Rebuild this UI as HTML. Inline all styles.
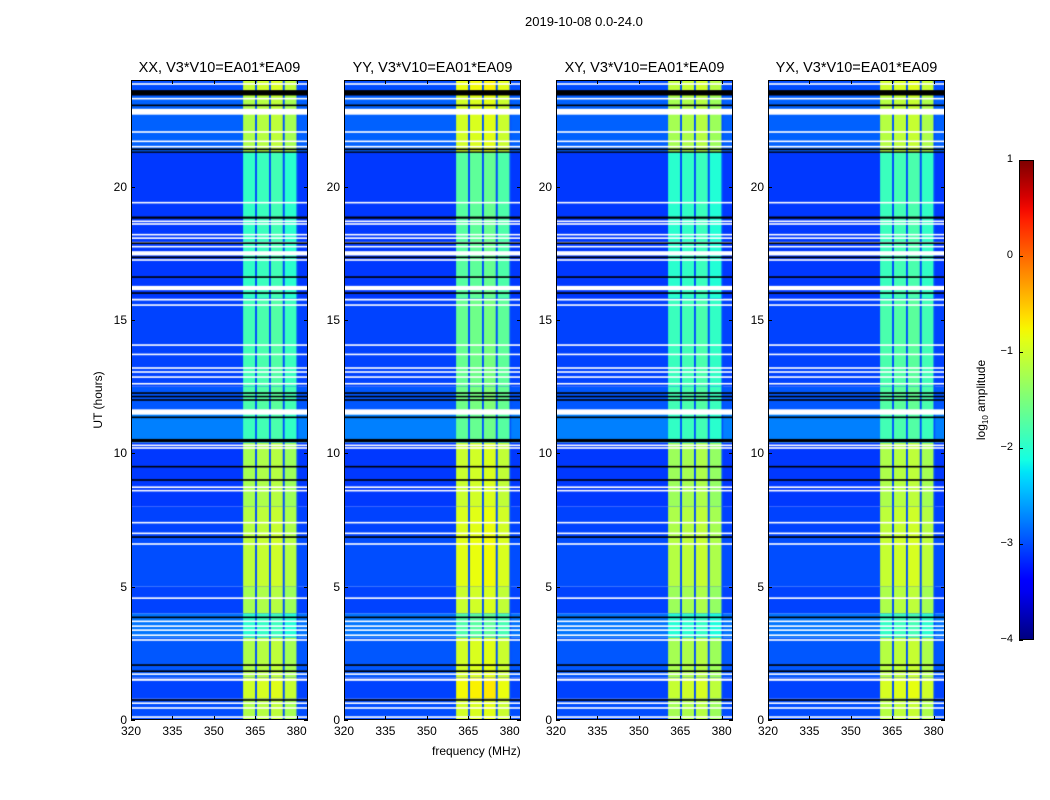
<!DOCTYPE html>
<html><head><meta charset="utf-8">
<style>
body{margin:0;background:#fff;width:1050px;height:800px;position:relative;overflow:hidden;font-family:"Liberation Sans","DejaVu Sans",sans-serif;}
.t{position:absolute;font-size:12px;color:#000;white-space:nowrap;}
.title{position:absolute;font-size:14.5px;white-space:nowrap;transform:translateX(-50%);}
canvas{position:absolute;}
.frame{position:absolute;border:1px solid #000;box-sizing:border-box;}
</style></head>
<body>
<div class="t" style="left:525px;top:14px;font-size:13px;">2019-10-08 0.0-24.0</div>
<div class="t" style="left:432px;top:744px;font-size:12px;">frequency (MHz)</div>
<div class="t" style="left:98px;top:400px;transform:translate(-50%,-50%) rotate(-90deg);font-size:12px;">UT (hours)</div>
<div class="t" style="left:982px;top:400px;transform:translate(-50%,-50%) rotate(-90deg);font-size:12px;">log<sub style="font-size:8px">10</sub> amplitude</div>
<div id="root"></div>
<script>
// ---- data ----
const panelTitles = ["XX, V3*V10=EA01*EA09","YY, V3*V10=EA01*EA09","XY, V3*V10=EA01*EA09","YX, V3*V10=EA01*EA09"];
const panelLefts = [131,344,556,768];
const panelGain = [0, 0.22, -0.05, 0.05];
const xTicks = [320,335,350,365,380];
const yTicks = [0,5,10,15,20];
const cbTicks = [-4,-3,-2,-1,0,1];
// time segments (hours) : background level and RFI-band level (log10 amplitude)
const segStart = [0, 0.8, 1.6, 3.1, 4.0, 5.0, 6.9, 8.0, 10.4, 11.5, 12.5, 15.8, 21.3, 23.4];
const segEnd   = [0.8, 1.6, 3.1, 4.0, 5.0, 6.9, 8.0, 10.4, 11.5, 12.5, 15.8, 21.3, 23.4, 24];
const segBg    = [-3.0, -3.05, -2.95, -2.8, -3.05, -3.0, -3.05, -3.1, -2.75, -2.95, -3.05, -3.1, -2.9, -3.0];
const segBand  = [-1.2, -1.0, -1.2, -2.0, -1.25, -1.1, -1.15, -1.25, -1.9, -1.8, -1.85, -1.95, -1.2, -1.05];
// RFI sub-bands (MHz)
const subStart = [360.6, 365.6, 370.6, 375.6];
const subEnd   = [365.0, 370.0, 375.0, 380.0];
const subOffset = [0, 0.05, 0.1, -0.05];
// flagged rows (hours)
const whiteStart = [0.08,0.42,0.6,1.47,1.69,2.97,3.15,3.34,3.49,3.67,4.54,6.57,6.97,7.37,8.57,8.7,10.17,10.27,11.45,12.58,12.83,13.02,13.17,13.68,14.03,15.53,15.73,16.12,17.22,17.42,17.72,17.87,18.04,18.17,18.57,18.67,19.37,21.47,21.67,22.02,22.7,23.27,23.52,23.82];
const whiteEnd   = [0.14,0.48,0.66,1.55,1.75,3.03,3.21,3.4,3.55,3.73,4.6,6.63,7.03,7.43,8.63,8.76,10.23,10.33,11.65,12.64,12.89,13.08,13.23,13.74,14.09,15.59,15.79,16.28,17.28,17.58,17.78,17.93,18.1,18.23,18.63,18.73,19.43,21.53,21.73,22.08,22.92,23.33,23.58,23.88];
const blackStart = [0.72,1.8,2.03,3.82,6.83,8.97,9.47,10.42,11.32,11.97,12.1,12.23,15.98,16.58,17.32,17.85,18.8,21.37,21.27,23.02,23.42];
const blackEnd   = [0.78,1.86,2.09,3.88,6.89,9.03,9.53,10.54,11.38,12.03,12.16,12.29,16.04,16.64,17.38,17.91,18.88,21.43,21.32,23.08,23.62];

// ---- helpers ----
function interp(pts,t){for(let i=1;i<pts.length;i++){if(t<=pts[i][0]){const a=pts[i-1],b=pts[i];return a[1]+(b[1]-a[1])*(t-a[0])/(b[0]-a[0]);}}return pts[pts.length-1][1];}
const RP=[[0,0],[0.35,0],[0.66,1],[0.89,1],[1,0.5]];
const GP=[[0,0],[0.125,0],[0.375,1],[0.64,1],[0.91,0],[1,0]];
const BP=[[0,0.5],[0.11,1],[0.34,1],[0.65,0],[1,0]];
function jet(v){
  let t=(v+4)/5; t=Math.max(0,Math.min(1,t));
  return `rgb(${Math.round(interp(RP,t)*255)},${Math.round(interp(GP,t)*255)},${Math.round(interp(BP,t)*255)})`;
}
const W=177,H=640,TOP=80,FMIN=320,FMAX=384.1;
const xs=f=>(f-FMIN)/(FMAX-FMIN)*W;
const ys=h=>H-h/24*H;
const root=document.getElementById('root');

panelLefts.forEach((L,p)=>{
  const c=document.createElement('canvas');
  
  
  c.width=W;c.height=H;c.style.left=L+'px';c.style.top=TOP+'px';
  root.appendChild(c);
  const ctx=c.getContext('2d');
  for(let i=0;i<segStart.length;i++){
    const y0=ys(segEnd[i]),y1=ys(segStart[i]);
    ctx.fillStyle=jet(segBg[i]);ctx.fillRect(0,y0,W,y1-y0);
    for(let k=0;k<subStart.length;k++){
      ctx.fillStyle=jet(segBand[i]+panelGain[p]+subOffset[k]);
      const xa=xs(subStart[k]),xb=xs(subEnd[k]);
      ctx.fillRect(xa,y0,xb-xa,y1-y0);
    }
    ctx.fillStyle=jet(-3.0);
    for(let k=0;k<subEnd.length;k++){ctx.fillRect(xs(subEnd[k]),y0,1.5,y1-y0);}
  }
  ctx.fillStyle='#fff';
  for(let i=0;i<whiteStart.length;i++){const a=ys(whiteEnd[i]),b=ys(whiteStart[i]);ctx.fillRect(0,a,W,Math.max(1.2,b-a));}
  ctx.fillStyle='#000';
  for(let i=0;i<blackStart.length;i++){const a=ys(blackEnd[i]),b=ys(blackStart[i]);ctx.fillRect(0,a,W,Math.max(1,b-a));}

  const fr=document.createElement('div');fr.className='frame';
  
  
  fr.style.cssText=`left:${L}px;top:${TOP}px;width:${W}px;height:${H}px;`;
  root.appendChild(fr);
  const tt=document.createElement('div');tt.className='title';tt.textContent=panelTitles[p];
  
  
  tt.style.left=(L+W/2)+'px';tt.style.top='60px';root.appendChild(tt);
  xTicks.forEach(v=>{
    const x=L+xs(v);
    const l=document.createElement('div');l.className='t';l.textContent=v;
    
    
    l.style.left=(x-10)+'px';l.style.width='20px';l.style.textAlign='center';l.style.top='724px';root.appendChild(l);
    ['top','bottom'].forEach(s=>{const m=document.createElement('div');
      
      
      m.style.cssText=`position:absolute;left:${x}px;top:${s=='top'?TOP:TOP+H-4}px;width:1px;height:4px;background:#000`;root.appendChild(m);});
  });
  yTicks.forEach(v=>{
    const y=TOP+ys(v);
    const l=document.createElement('div');l.className='t';l.textContent=v;
    
    
    l.style.left=(L-34)+'px';l.style.width='30px';l.style.textAlign='right';l.style.top=(y-7)+'px';root.appendChild(l);
    [0,W-4].forEach(dx=>{const m=document.createElement('div');
      
      
      m.style.cssText=`position:absolute;left:${L+dx}px;top:${y}px;width:4px;height:1px;background:#000`;root.appendChild(m);});
  });
});
// colorbar
const cb=document.createElement('div');


let stops=[];for(let i=0;i<=40;i++){const v=1-5*i/40;stops.push(jet(v)+' '+(i*2.5)+'%');}
cb.style.cssText=`position:absolute;left:1019px;top:160px;width:15px;height:480px;border:1px solid #000;box-sizing:border-box;background:linear-gradient(${stops.join(',')})`;
root.appendChild(cb);
cbTicks.forEach(v=>{
  const y=160+(1-v)/5*480;
  const l=document.createElement('div');l.className='t';l.textContent=(v<0?'\u2212'+(-v):v);
  
  
  l.style.cssText+=`left:${983}px;width:30px;text-align:right;top:${y-7}px;font-size:11px;`;root.appendChild(l);
  const m=document.createElement('div');
  
  
  m.style.cssText=`position:absolute;left:1019px;top:${y}px;width:4px;height:1px;background:#000`;root.appendChild(m);
});
</script>
</body></html>
